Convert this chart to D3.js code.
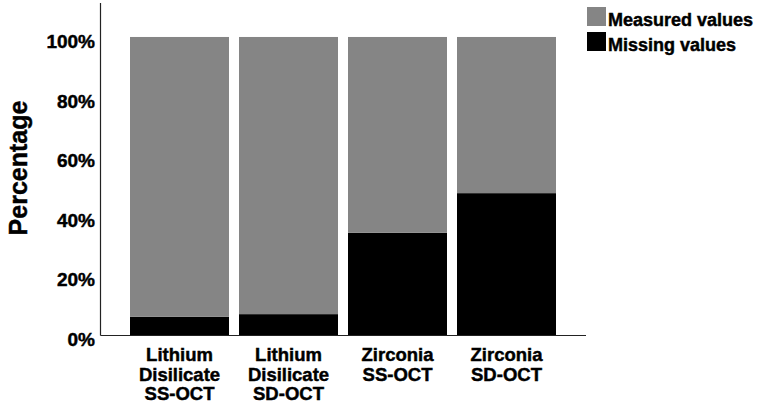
<!DOCTYPE html>
<html>
<head>
<meta charset="utf-8">
<script src="https://cdn.jsdelivr.net/npm/d3@7"></script>
<style>
  body { margin: 0; background: #fff; }
  text { font-family: "Liberation Sans", Arial, sans-serif; font-weight: bold; fill: #000; stroke: #000; stroke-width: 0.45px; }
</style>
</head>
<body>
<svg id="chart" width="760" height="406" viewBox="0 0 760 406"></svg>
<script>
// categories, each label split into lines
const categories = ["Lithium Disilicate SS-OCT", "Lithium Disilicate SD-OCT", "Zirconia SS-OCT", "Zirconia SD-OCT"];
const categoryLines = [["Lithium", "Disilicate", "SS-OCT"], ["Lithium", "Disilicate", "SD-OCT"], ["Zirconia", "SS-OCT"], ["Zirconia", "SD-OCT"]];
// percentages
const missingValues = [6.1, 7.0, 34.3, 47.6];
const measuredValues = [93.9, 93.0, 65.7, 52.4];
const seriesNames = ["Missing values", "Measured values"];
const seriesColors = ["#000000", "#858585"];
const yTicks = [0, 20, 40, 60, 80, 100];

const svg = d3.select("#chart");

const rows = categories.map((c, i) => ({
    category: c,
    "Missing values": missingValues[i],
    "Measured values": measuredValues[i]
}));

const stacked = d3.stack().keys(seriesNames)(rows);

const x = d3.scaleBand()
    .domain(categories)
    .range([125, 561])
    .paddingInner(10 / 109)
    .paddingOuter(5 / 109);

const y = d3.scaleLinear()
    .domain([0, 111.4])
    .range([335, 3]);

const color = d3.scaleOrdinal().domain(seriesNames).range(seriesColors);

// bars
svg.append("g")
    .selectAll("g")
    .data(stacked)
    .join("g")
    .attr("fill", d => color(d.key))
    .selectAll("rect")
    .data(d => d)
    .join("rect")
    .attr("x", d => x(d.data.category))
    .attr("width", x.bandwidth())
    .attr("y", d => y(d[1]))
    .attr("height", d => y(d[0]) - y(d[1]));

// axis lines
svg.append("line")
    .attr("x1", 100.5).attr("x2", 100.5)
    .attr("y1", y.range()[1]).attr("y2", y(0) + 0.5)
    .attr("stroke", "#222").attr("stroke-width", 1.2);
svg.append("line")
    .attr("x1", 100.5).attr("x2", 586)
    .attr("y1", y(0) + 0.5).attr("y2", y(0) + 0.5)
    .attr("stroke", "#222").attr("stroke-width", 1.2);

// y tick labels
svg.append("g")
    .selectAll("text")
    .data(yTicks)
    .join("text")
    .attr("x", 95)
    .attr("y", d => y(d) + 11)
    .attr("text-anchor", "end")
    .style("font-size", "19px")
    .text(d => d + "%");

// y axis title
svg.append("text")
    .attr("transform", "translate(27,168) rotate(-90)")
    .attr("text-anchor", "middle")
    .style("font-size", "25px")
    .text("Percentage");

// category labels
const catGroups = svg.append("g")
    .selectAll("text")
    .data(categories)
    .join("text")
    .attr("text-anchor", "middle")
    .attr("x", d => x(d) + x.bandwidth() / 2)
    .attr("y", 361)
    .style("font-size", "18.5px");

catGroups.selectAll("tspan")
    .data((d, i) => categoryLines[i])
    .join("tspan")
    .attr("x", function () { return this.parentNode.getAttribute("x"); })
    .attr("dy", (d, i) => i === 0 ? 0 : 19.5)
    .text(d => d);

// legend
const legendItems = ["Measured values", "Missing values"];
const legend = svg.append("g")
    .selectAll("g")
    .data(legendItems)
    .join("g")
    .attr("transform", (d, i) => `translate(587,${7 + i * 25})`);

legend.append("rect")
    .attr("width", 19)
    .attr("height", 19)
    .attr("fill", d => color(d));

legend.append("text")
    .attr("x", 21)
    .attr("y", 19)
    .style("font-size", "18px")
    .text(d => d);
</script>
</body>
</html>
